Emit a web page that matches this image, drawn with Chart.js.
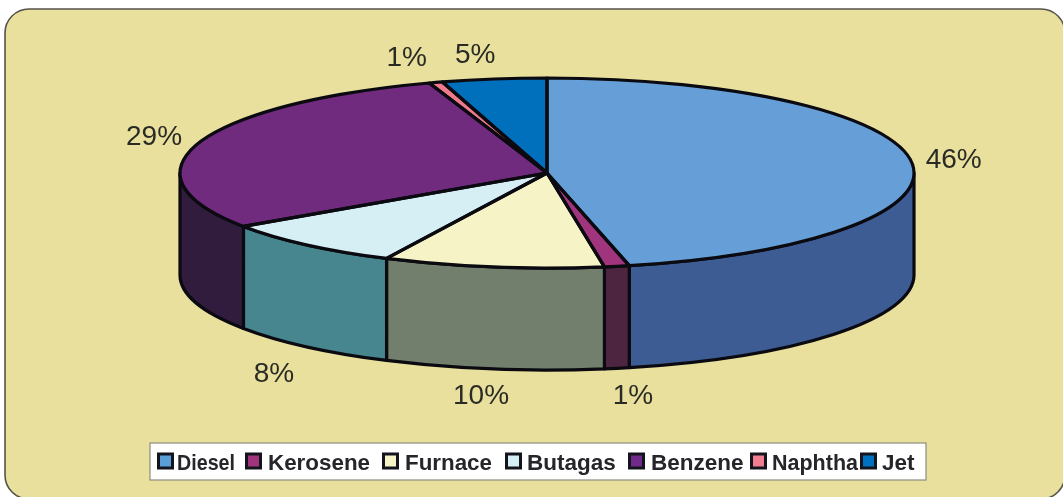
<!DOCTYPE html>
<html>
<head>
<meta charset="utf-8">
<style>html,body{margin:0;padding:0;background:#fff}canvas{display:block}</style>
<script src="https://cdn.jsdelivr.net/npm/chart.js@4"></script>
</head>
<body>
<div style="width:1063px;height:497px;position:relative"><canvas id="c"></canvas></div>
<script>
const categories = ['Diesel','Kerosene','Furnace','Butagas','Benzene','Naphtha','Jet'];
const shares = [46.4, 1.1, 9.7, 8.3, 29.3, 0.6, 4.6];
const topColours = ['#669fd8','#a0357e','#f6f3c6','#d5eff4','#702a7e','#ee7a8c','#0070bd'];
const sideColours = ['#3e5c94','#4e2540','#727f6c','#47858f','#321c3e','#7a3a44','#003c66'];
const legendColours = ['#5b9fd8','#a0357e','#f6f3c6','#d5eff4','#702a8a','#f27d90','#0070c0'];
const legendBoxToText = [20,23,23,22,23,22,22];
const legendGaps = [10,12,13,12,6,2,0];
const legendTextWidths = [58,102,87,89,93,86,33];
const labelNudges = [[42,-2],[16,28],[-12,27],[-33,27],[-45,-6],[-29,-24],[-19,-24]];

const DEPTH = 102, LINE = 3.2;
const FONT = '"Liberation Sans", Arial, sans-serif';

function geometry(chart){
  const a = chart.chartArea;
  return {cx:(a.left+a.right)/2, cy:(a.top+a.bottom)/2, rx:a.width/2, ry:a.height/2, sx:a.width/a.height};
}
function frontRange(s,e){
  const two = Math.PI*2;
  let out = null;
  for (const k of [-1,0,1]){
    const lo = Math.max(s+k*two,0), hi = Math.min(e+k*two,Math.PI);
    if (hi>lo) out = [lo,hi];
  }
  return out;
}

const pie3d = {
  id:'pie3d',
  beforeDraw(chart){
    const c = chart.ctx;
    c.save();
    c.fillStyle='#fff'; c.fillRect(0,0,chart.width,chart.height);
    c.beginPath(); c.roundRect(5,9,1060,490,24);
    c.fillStyle='#e8e09c'; c.fill();
    c.lineWidth=1.6; c.strokeStyle='#55534a'; c.stroke();
    c.restore();
  },
  beforeDatasetsDraw(chart){
    const c = chart.ctx, g = geometry(chart);
    chart.getDatasetMeta(0).data.forEach((arc,i)=>{
      const r = frontRange(arc.startAngle,arc.endAngle);
      if(!r) return;
      c.save();
      c.beginPath();
      c.ellipse(g.cx,g.cy,g.rx,g.ry,0,r[0],r[1]);
      c.ellipse(g.cx,g.cy+DEPTH,g.rx,g.ry,0,r[1],r[0],true);
      c.closePath();
      c.fillStyle=sideColours[i]; c.fill();
      c.lineWidth=LINE; c.strokeStyle='#0a0a10'; c.lineJoin='round'; c.stroke();
      c.restore();
    });
  },
  beforeDatasetDraw(chart){
    const c = chart.ctx, g = geometry(chart);
    c.save();
    c.translate(g.cx,g.cy); c.scale(g.sx,1); c.translate(-g.cx,-g.cy);
  },
  afterDatasetDraw(chart){ chart.ctx.restore(); },
  afterDatasetsDraw(chart){
    const c = chart.ctx, g = geometry(chart);
    const arcs = chart.getDatasetMeta(0).data;
    arcs.forEach(arc=>{
      c.save();
      c.beginPath();
      c.moveTo(g.cx,g.cy);
      c.ellipse(g.cx,g.cy,g.rx,g.ry,0,arc.startAngle,arc.endAngle);
      c.closePath();
      c.lineWidth=LINE; c.strokeStyle='#0a0a10'; c.lineJoin='round'; c.stroke();
      c.restore();
    });
    c.save();
    c.font='28px '+FONT; c.fillStyle='#2b2b26'; c.textAlign='center'; c.textBaseline='middle';
    arcs.forEach((arc,i)=>{
      const m=(arc.startAngle+arc.endAngle)/2;
      const x=g.cx+g.rx*Math.cos(m)+labelNudges[i][0];
      const y=g.cy+g.ry*Math.sin(m)+(Math.sin(m)>0?DEPTH:0)+labelNudges[i][1];
      c.fillText(Math.round(shares[i])+'%',x,y);
    });
    c.restore();
  },
  afterInit(chart){
    const lg = chart.legend;
    if(!lg) return;
    lg.draw = function(){
      const c = chart.ctx, items = this.legendItems||[];
      const L=150,T=443,W=776,H=37,BOX=17;
      c.save();
      c.fillStyle='#fff'; c.fillRect(L,T,W,H);
      c.lineWidth=1.2; c.strokeStyle='#8d8d80'; c.strokeRect(L,T,W,H);
      let x=L+7;
      c.font='bold 22.5px '+FONT; c.textBaseline='middle'; c.textAlign='left';
      items.forEach((it,i)=>{
        c.fillStyle=legendColours[i]; c.fillRect(x+1.5,T+11,BOX-3,BOX-3);
        c.lineWidth=3; c.strokeStyle='#14141c'; c.strokeRect(x+1.5,T+11,BOX-3,BOX-3);
        const tx=x+legendBoxToText[i];
        c.fillStyle='#26262a';
        c.fillText(it.text,tx,T+20.5,legendTextWidths[i]);
        x=tx+legendTextWidths[i]+legendGaps[i];
      });
      c.restore();
    };
  }
};

new Chart(document.getElementById('c'),{
  type:'pie',
  data:{labels:categories,datasets:[{data:shares,backgroundColor:topColours,borderWidth:0}]},
  options:{
    responsive:true,maintainAspectRatio:false,animation:false,
    layout:{padding:{left:180,right:149,top:78,bottom:229}},
    plugins:{legend:{display:true,position:'chartArea'},tooltip:{enabled:false}}
  },
  plugins:[pie3d]
});
</script>
</body>
</html>
